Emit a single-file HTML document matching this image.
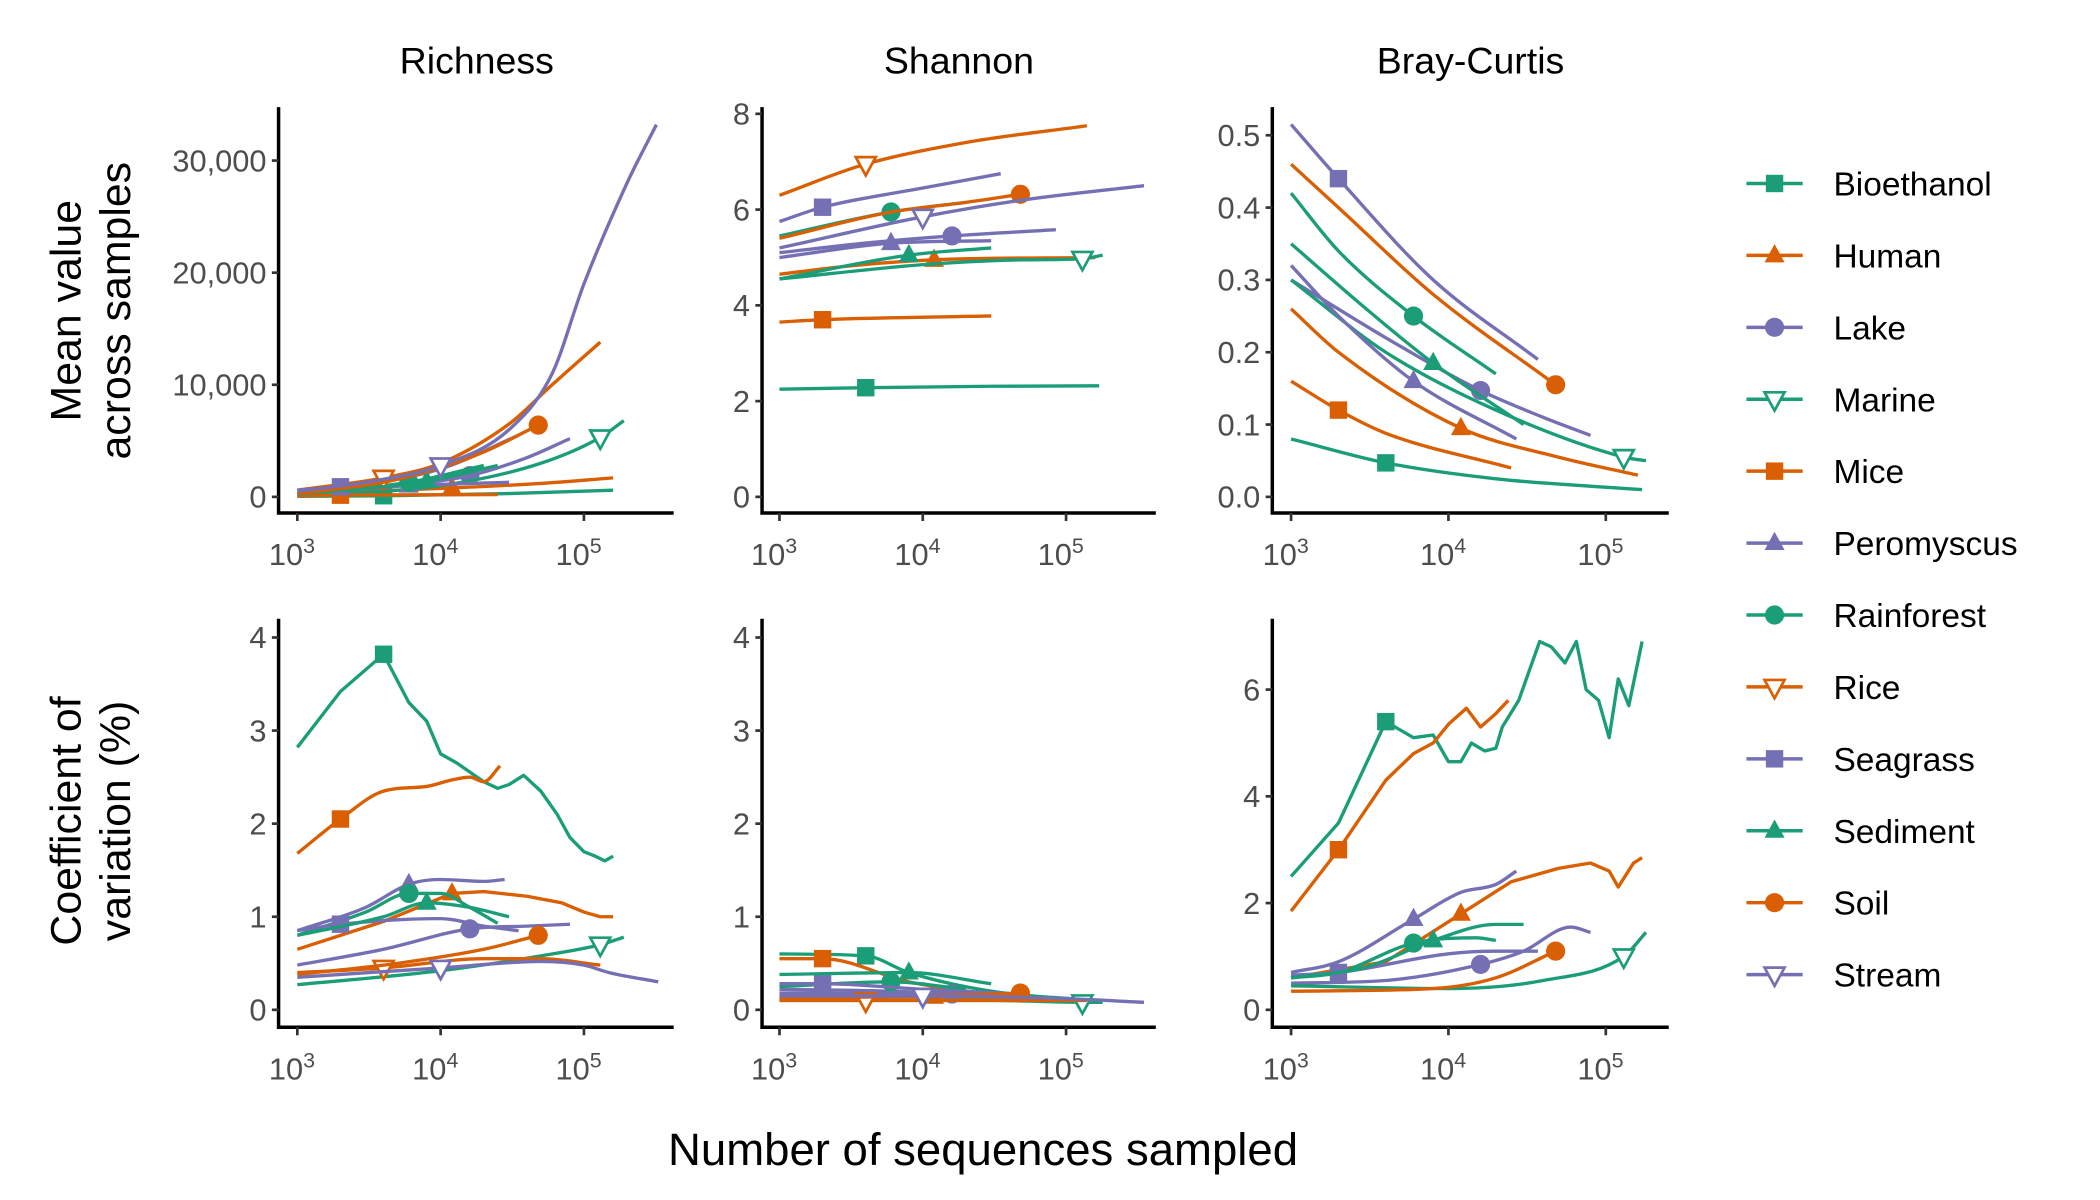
<!DOCTYPE html>
<html><head><meta charset="utf-8"><style>
html,body{margin:0;padding:0;background:#fff;}
svg{display:block;font-family:"Liberation Sans",sans-serif;}
</style></head><body>
<svg id="chart" width="2100" height="1200" viewBox="0 0 1568 896" preserveAspectRatio="none" xmlns="http://www.w3.org/2000/svg">
<text x="356" y="55" font-size="28" text-anchor="middle">Richness</text>
<text x="716" y="55" font-size="28" text-anchor="middle">Shannon</text>
<text x="1098" y="55" font-size="28" text-anchor="middle">Bray-Curtis</text>
<text transform="translate(60,232) rotate(-90)" font-size="32" text-anchor="middle"><tspan x="0" dy="0">Mean value</tspan><tspan x="0" dy="37">across samples</tspan></text>
<text transform="translate(60,613) rotate(-90)" font-size="32" text-anchor="middle"><tspan x="0" dy="0">Coefficient of</tspan><tspan x="0" dy="37">variation (%)</tspan></text>
<text x="734" y="870" font-size="34" text-anchor="middle">Number of sequences sampled</text>
<g id="panels"></g>
<g id="legend"></g>
</svg>
<script>
const seriesNames = ["Bioethanol","Human","Lake","Marine","Mice","Peromyscus","Rainforest","Rice","Seagrass","Sediment","Soil","Stream"];
const seriesColors = ["#1B9E77","#D95F02","#7570B3","#1B9E77","#D95F02","#7570B3","#1B9E77","#D95F02","#7570B3","#1B9E77","#D95F02","#7570B3"];
const seriesShapes = ["square","tri","circle","dtri","square","tri","circle","dtri","square","tri","circle","dtri"];
const markerN = [4000,12000,16000,130000,2000,6000,6000,4000,2000,8000,48000,10000];

const richness = [
 [[1000,50],[4000,100],[30000,300],[160000,600]],
 [[1000,250],[12000,800],[50000,1200],[160000,1700]],
 [[1000,250],[4000,900],[16000,1900],[40000,3500],[80000,5200]],
 [[1000,100],[10000,1000],[50000,3000],[130000,5300],[190000,6800]],
 [[1000,100],[2000,150],[25000,200]],
 [[1000,300],[6000,1000],[30000,1300]],
 [[1000,300],[6000,1300],[20000,2800]],
 [[1000,600],[4000,1700],[10000,3000],[30000,6500],[60000,10000],[130000,13800]],
 [[1000,600],[2000,900],[10000,2500],[35000,5500]],
 [[1000,250],[8000,1400],[25000,2800]],
 [[1000,300],[4000,1300],[10000,2600],[20000,4000],[48000,6400]],
 [[1000,500],[3000,1300],[10000,2800],[30000,6000],[60000,11000],[100000,19000],[200000,28000],[320000,33200]]
];
const shannon = [
 [[1000,2.25],[4000,2.28],[30000,2.31],[170000,2.32]],
 [[1000,4.65],[3000,4.82],[12000,4.95],[160000,5.0]],
 [[1000,5.1],[4000,5.3],[16000,5.45],[85000,5.58]],
 [[1000,4.55],[10000,4.85],[50000,4.95],[130000,4.97],[180000,5.05]],
 [[1000,3.65],[2000,3.7],[30000,3.78]],
 [[1000,5.0],[6000,5.3],[30000,5.35]],
 [[1000,5.45],[6000,5.95],[20000,6.15]],
 [[1000,6.3],[4000,6.95],[20000,7.4],[140000,7.75]],
 [[1000,5.75],[2000,6.05],[10000,6.45],[35000,6.75]],
 [[1000,4.55],[8000,5.05],[30000,5.2]],
 [[1000,5.4],[6000,5.95],[20000,6.15],[48000,6.32]],
 [[1000,5.2],[10000,5.85],[50000,6.2],[350000,6.5]]
];
const bray = [
 [[1000,0.08],[4000,0.047],[20000,0.025],[170000,0.01]],
 [[1000,0.26],[2000,0.2],[12000,0.095],[50000,0.055],[160000,0.03]],
 [[1000,0.30],[4000,0.22],[16000,0.147],[40000,0.11],[80000,0.085]],
 [[1000,0.30],[4000,0.2],[20000,0.12],[130000,0.055],[180000,0.05]],
 [[1000,0.16],[2000,0.12],[4000,0.088],[25000,0.04]],
 [[1000,0.32],[2000,0.25],[6000,0.16],[27000,0.08]],
 [[1000,0.42],[2000,0.34],[6000,0.25],[20000,0.17]],
 [],
 [[1000,0.515],[2000,0.44],[8000,0.3],[37000,0.19]],
 [[1000,0.35],[3000,0.26],[8000,0.185],[30000,0.1]],
 [[1000,0.46],[2000,0.4],[8000,0.28],[48000,0.155]],
 []
];
const cvRichness = [
 [[1000,2.82],[2000,3.42],[4000,3.82],[6000,3.3],[8000,3.1],[10000,2.75],[13000,2.65],[20000,2.45],[25000,2.38],[30000,2.42],[38000,2.52],[50000,2.35],[65000,2.1],[80000,1.85],[100000,1.7],[120000,1.65],[140000,1.6],[160000,1.65]],
 [[1000,0.65],[4000,0.95],[12000,1.25],[20000,1.27],[40000,1.22],[70000,1.15],[100000,1.05],[130000,1.0],[160000,1.0]],
 [[1000,0.48],[4000,0.65],[16000,0.87],[40000,0.9],[80000,0.92]],
 [[1000,0.27],[10000,0.42],[50000,0.58],[130000,0.7],[190000,0.78]],
 [[1000,1.68],[2000,2.05],[4000,2.35],[8000,2.4],[12000,2.47],[16000,2.5],[20000,2.45],[26000,2.62]],
 [[1000,0.85],[3000,1.1],[6000,1.35],[10000,1.4],[20000,1.38],[28000,1.4]],
 [[1000,0.8],[3000,1.05],[6000,1.25],[10000,1.25],[16000,1.1],[25000,0.93]],
 [[1000,0.4],[4000,0.45],[20000,0.55],[50000,0.55],[130000,0.48]],
 [[1000,0.85],[2000,0.92],[10000,0.98],[20000,0.9],[35000,0.85]],
 [[1000,0.8],[4000,1.0],[8000,1.15],[16000,1.1],[30000,1.0]],
 [[1000,0.38],[5000,0.5],[20000,0.65],[48000,0.8]],
 [[1000,0.35],[10000,0.45],[50000,0.52],[100000,0.48],[150000,0.4],[330000,0.3]]
];
const cvShannon = [
 [[1000,0.6],[4000,0.58],[8000,0.4],[30000,0.2],[160000,0.1]],
 [[1000,0.12],[12000,0.14],[50000,0.12],[160000,0.1]],
 [[1000,0.18],[16000,0.17],[85000,0.12]],
 [[1000,0.1],[30000,0.1],[130000,0.08],[180000,0.08]],
 [[1000,0.55],[2000,0.55],[8000,0.3],[25000,0.18]],
 [[1000,0.22],[6000,0.2],[30000,0.15]],
 [[1000,0.25],[6000,0.3],[20000,0.22]],
 [[1000,0.1],[4000,0.1],[140000,0.1]],
 [[1000,0.28],[2000,0.28],[10000,0.22],[35000,0.18]],
 [[1000,0.38],[8000,0.4],[30000,0.28]],
 [[1000,0.12],[20000,0.16],[48000,0.18]],
 [[1000,0.15],[10000,0.15],[100000,0.12],[350000,0.08]]
];
const cvBray = [
 [[1000,2.5],[2000,3.5],[4000,5.4],[6000,5.1],[8000,5.15],[10000,4.65],[12000,4.65],[14000,5.0],[17000,4.85],[20000,4.9],[22000,5.3],[28000,5.8],[38000,6.9],[45000,6.8],[55000,6.5],[65000,6.9],[75000,6.0],[90000,5.8],[105000,5.1],[120000,6.2],[140000,5.7],[170000,6.9]],
 [[1000,0.6],[4000,0.9],[12000,1.8],[25000,2.4],[50000,2.65],[80000,2.75],[105000,2.6],[120000,2.3],[150000,2.75],[170000,2.85]],
 [[1000,0.5],[4000,0.55],[16000,0.85],[30000,1.1],[60000,1.55],[80000,1.45]],
 [[1000,0.45],[10000,0.4],[40000,0.55],[130000,1.0],[180000,1.45]],
 [[1000,1.85],[2000,3.0],[4000,4.3],[6000,4.8],[8000,5.0],[10000,5.35],[13000,5.65],[16000,5.3],[20000,5.55],[24000,5.8]],
 [[1000,0.7],[2000,0.9],[6000,1.7],[12000,2.2],[20000,2.35],[27000,2.6]],
 [[1000,0.6],[2000,0.7],[6000,1.25],[15000,1.35],[20000,1.3]],
 [],
 [[1000,0.65],[2000,0.7],[10000,1.05],[20000,1.1],[37000,1.1]],
 [[1000,0.6],[3000,0.8],[8000,1.3],[20000,1.6],[30000,1.6]],
 [[1000,0.35],[8000,0.4],[20000,0.6],[48000,1.1]],
 []
];

const panels = [
 {name:"richness-mean", data:richness, x0:208, xr:503, y0:383, yt:80, lx:222, dec:107, v0:371, vs:8.37/1000, ticks:[0,10000,20000,30000], fmt:v=>v.toLocaleString("en-US")},
 {name:"shannon-mean", data:shannon, x0:569, xr:863, y0:383, yt:80, lx:582, dec:107, v0:371, vs:35.75, ticks:[0,2,4,6,8], fmt:v=>String(v)},
 {name:"bray-curtis-mean", data:bray, x0:950, xr:1246, y0:383, yt:80, lx:964, dec:117.5, v0:371, vs:540, ticks:[0,0.1,0.2,0.3,0.4,0.5], fmt:v=>v.toFixed(1)},
 {name:"richness-cv", data:cvRichness, x0:208, xr:503, y0:767, yt:462, lx:222, dec:107, v0:754, vs:69.5, ticks:[0,1,2,3,4], fmt:v=>String(v)},
 {name:"shannon-cv", data:cvShannon, x0:569, xr:863, y0:767, yt:462, lx:582, dec:107, v0:754, vs:69.5, ticks:[0,1,2,3,4], fmt:v=>String(v)},
 {name:"bray-curtis-cv", data:cvBray, x0:950, xr:1246, y0:767, yt:462, lx:964, dec:117.5, v0:754, vs:39.85, ticks:[0,2,4,6], fmt:v=>String(v)}
];
const xTicks = [3,4,5];

const NS = "http://www.w3.org/2000/svg";
function mk(tag, attrs, parent){const e=document.createElementNS(NS,tag);for(const k in attrs)e.setAttribute(k,attrs[k]);parent.appendChild(e);return e;}

function linPath(P){return P.map((q,j)=>(j?"L":"M")+q[0].toFixed(1)+","+q[1].toFixed(1)).join(" ");}
function monoPath(P){
  const n=P.length; if(n<3 || n>8) return linPath(P);
  const d=[],m=new Array(n);
  for(let i=0;i<n-1;i++) d.push((P[i+1][1]-P[i][1])/(P[i+1][0]-P[i][0]));
  m[0]=d[0]; m[n-1]=d[n-2];
  for(let i=1;i<n-1;i++){ m[i]= (d[i-1]*d[i]<=0)?0:(d[i-1]+d[i])/2; }
  for(let i=0;i<n-1;i++){
    if(d[i]===0){m[i]=0;m[i+1]=0;continue;}
    const a=m[i]/d[i], b=m[i+1]/d[i], s=a*a+b*b;
    if(s>9){const t=3/Math.sqrt(s);m[i]=t*a*d[i];m[i+1]=t*b*d[i];}
  }
  let s="M"+P[0][0].toFixed(1)+","+P[0][1].toFixed(1);
  for(let i=0;i<n-1;i++){
    const h=(P[i+1][0]-P[i][0])/3;
    s+=` C${(P[i][0]+h).toFixed(1)},${(P[i][1]+m[i]*h).toFixed(1)} ${(P[i+1][0]-h).toFixed(1)},${(P[i+1][1]-m[i+1]*h).toFixed(1)} ${P[i+1][0].toFixed(1)},${P[i+1][1].toFixed(1)}`;
  }
  return s;
}

function drawMarker(g, shape, cx, cy, color, r){
  let m;
  if(shape==="square"){m=mk("rect",{x:cx-r,y:cy-r,width:2*r,height:2*r,fill:color},g);}
  else if(shape==="circle"){m=mk("circle",{cx:cx,cy:cy,r:r*1.1,fill:color},g);}
  else if(shape==="tri"){m=mk("polygon",{points:`${cx},${cy-r*1.3} ${cx-r*1.15},${cy+r*0.8} ${cx+r*1.15},${cy+r*0.8}`,fill:color},g);}
  else {m=mk("polygon",{points:`${cx},${cy+r*1.3} ${cx-r*1.15},${cy-r*0.8} ${cx+r*1.15},${cy-r*0.8}`,fill:"#fff",stroke:color,"stroke-width":2},g);}
  return m;
}

const root = document.getElementById("panels");
panels.forEach(p=>{
  const g = mk("g",{},root);
  
  
  const xs = n => p.lx + (Math.log10(n)-3)*p.dec;
  const ys = v => p.v0 - v*p.vs;
  const ax = mk("path",{d:`M${p.x0},${p.yt} L${p.x0},${p.y0} L${p.xr},${p.y0}`,fill:"none",stroke:"#000","stroke-width":2.6},g);
  
  
  p.ticks.forEach(t=>{
    const y=ys(t);
    mk("line",{x1:p.x0-5,x2:p.x0,y1:y,y2:y,stroke:"#333","stroke-width":2},g);
    const tx=mk("text",{x:p.x0-9,y:y+8,"font-size":23,"text-anchor":"end",fill:"#4d4d4d"},g);
    tx.textContent=p.fmt(t);
    
    
  });
  xTicks.forEach(t=>{
    const x=xs(Math.pow(10,t));
    mk("line",{x1:x,x2:x,y1:p.y0,y2:p.y0+6,stroke:"#333","stroke-width":2},g);
    const tx=mk("text",{x:x-4,y:p.y0+39,"font-size":23,"text-anchor":"middle",fill:"#4d4d4d"},g);
    tx.innerHTML='10<tspan dy="-9" font-size="16">'+t+'</tspan>';
    
    
  });
  p.data.forEach((pts,i)=>{
    if(!pts.length) return;
    const P = pts.map(q=>[xs(q[0]),ys(q[1])]);
    const ln = mk("path",{d:monoPath(P),fill:"none",stroke:seriesColors[i],"stroke-width":2.5,"stroke-linejoin":"round"},g);
    
    
    const mn = markerN[i]; const lm=Math.log10(mn);
    let val=null;
    for(let j=0;j<pts.length-1;j++){
      const a=Math.log10(pts[j][0]), b=Math.log10(pts[j+1][0]);
      if(lm>=a && lm<=b){val=pts[j][1]+(pts[j+1][1]-pts[j][1])*(lm-a)/(b-a);break;}
    }
    if(val!==null){
      const mkr=drawMarker(g,seriesShapes[i],xs(mn),ys(val),seriesColors[i],6.5);
      
      
    }
  });
});

const lg = document.getElementById("legend");
seriesNames.forEach((n,i)=>{
  const y = 137 + i*53.7;
  const g = mk("g",{},lg);
  
  
  mk("line",{x1:1304,x2:1346,y1:y,y2:y,stroke:seriesColors[i],"stroke-width":2.6},g);
  drawMarker(g,seriesShapes[i],1325,y,seriesColors[i],6.5);
  const t=mk("text",{x:1369,y:y+9,"font-size":25},g);
  t.textContent=n;
});
</script>
</body></html>
